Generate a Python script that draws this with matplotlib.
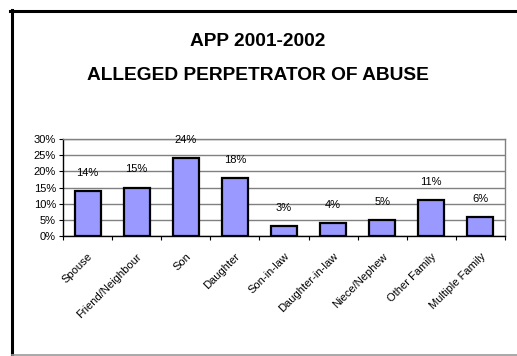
import matplotlib.pyplot as plt
from matplotlib.lines import Line2D
import numpy as np

plt.rcParams['font.family'] = ['Liberation Sans', 'DejaVu Sans']

categories = ['Spouse', 'Friend/Neighbour', 'Son', 'Daughter', 'Son-in-law',
              'Daughter-in-law', 'Niece/Nephew', 'Other Family', 'Multiple Family']
percent = [14, 15, 24, 18, 3, 4, 5, 11, 6]
y_ticks = [0, 5, 10, 15, 20, 25, 30]

W, H = 517, 356
fig = plt.figure(figsize=(W / 100, H / 100), dpi=100)
fig.patch.set_facecolor('white')

# outer frame: black left/top, grey bottom
fig.add_artist(Line2D([11.5 / W, 11.5 / W], [1 - 10 / H, 1 - 355 / H], color='black', lw=2.2))
fig.add_artist(Line2D([10 / W, 1.0], [1 - 11 / H, 1 - 11 / H], color='black', lw=2.2))
fig.add_artist(Line2D([12 / W, 1.0], [1 - 355 / H, 1 - 355 / H], color='#999999', lw=1.2))

fig.text(258 / W, 1 - 42 / H, 'APP 2001-2002', ha='center', va='center',
         fontsize=13.8, fontweight='bold')
fig.text(258 / W, 1 - 76 / H, 'ALLEGED PERPETRATOR OF ABUSE', ha='center', va='center',
         fontsize=13.8, fontweight='bold')

ax = fig.add_axes([63 / W, 1 - 236 / H, (505 - 63) / W, (236 - 139) / H])
x = np.arange(len(categories))
ax.bar(x, percent, width=0.53, color='#9999FF', edgecolor='black', linewidth=1.6, zorder=3)

for xi, v in zip(x, percent):
    ax.annotate(f'{v}%', (xi, v), xytext=(0, 13), textcoords='offset points',
                ha='center', va='center', fontsize=8)

ax.set_xlim(-0.5, len(categories) - 0.5)
ax.set_ylim(0, 30)
ax.set_yticks(y_ticks)
ax.set_yticklabels([f'{t}%' for t in y_ticks], fontsize=8)
ax.yaxis.grid(True, color='#808080', linewidth=1, zorder=0)
ax.set_axisbelow(True)

ax.set_xticks(np.arange(len(categories) + 1) - 0.5)
ax.set_xticklabels([])
ax.set_xticks(x, minor=True)
ax.set_xticklabels(categories, minor=True, rotation=45, ha='right',
                   rotation_mode='anchor', fontsize=8)
ax.tick_params(axis='x', which='minor', length=0, pad=11)
ax.tick_params(axis='x', which='major', length=3, color='black')
ax.tick_params(axis='y', length=3, pad=2)

ax.spines['left'].set_color('black')
ax.spines['bottom'].set_color('black')
ax.spines['top'].set_color('#808080')
ax.spines['right'].set_color('#808080')
for s in ax.spines.values():
    s.set_linewidth(1)

fig.savefig('out.png', dpi=100)
